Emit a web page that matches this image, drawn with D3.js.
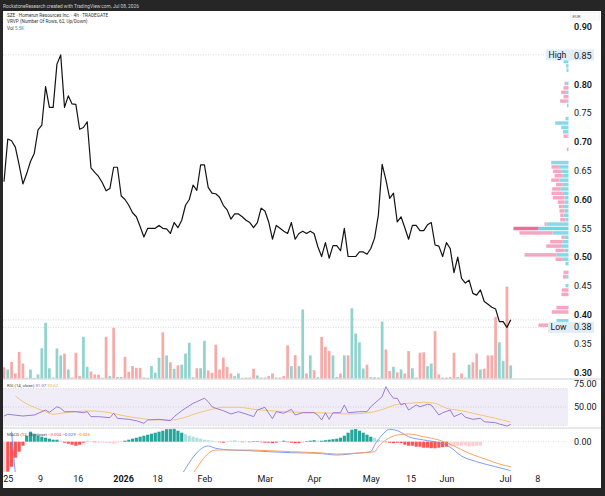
<!DOCTYPE html>
<html><head><meta charset="utf-8">
<script src="https://cdn.jsdelivr.net/npm/d3@7"></script>
<style>body{margin:0;background:#262626;}svg{display:block;}</style>
</head><body><svg id="c" width="605" height="496"></svg>
<script>
// ---------- DATA ----------
const price = [0.631,0.705,0.702,0.691,0.660,0.627,0.645,0.666,0.680,0.721,0.729,0.796,0.760,0.760,0.835,0.851,0.760,0.780,0.766,0.765,
0.722,0.725,0.735,0.655,0.647,0.640,0.629,0.615,0.619,0.656,0.656,0.606,0.600,0.590,0.577,0.570,0.553,0.535,0.550,0.550,
0.550,0.555,0.550,0.549,0.541,0.560,0.551,0.564,0.590,0.600,0.625,0.616,0.660,0.660,0.621,0.611,0.610,0.604,0.590,0.582,
0.566,0.575,0.575,0.570,0.564,0.560,0.551,0.560,0.585,0.580,0.561,0.531,0.555,0.550,0.545,0.541,0.560,0.531,0.541,0.545,
0.541,0.545,0.541,0.518,0.501,0.525,0.498,0.520,0.520,0.511,0.550,0.501,0.501,0.501,0.509,0.509,0.505,0.515,0.533,0.573,
0.661,0.634,0.602,0.611,0.561,0.570,0.551,0.531,0.555,0.555,0.546,0.546,0.556,0.560,0.521,0.519,0.501,0.525,0.515,0.473,
0.500,0.463,0.455,0.460,0.437,0.434,0.443,0.423,0.418,0.413,0.410,0.388,0.388,0.378,0.391];

const volume = [4.7,3.8,7.0,2.1,11.2,6.3,0.3,3.8,0.3,1.7,12.7,23.4,4.3,0.4,12.6,9.7,10.4,3.8,0.4,10.8,
1.0,17.5,4.9,2.9,1.7,1.6,0.3,17.5,1.0,21.3,0.6,0.6,9.1,2.8,5.2,4.5,4.5,0.4,0.3,5.2,
2.4,8.7,19.4,9.7,6.8,4.1,5.5,5.8,10.5,15.0,0.5,4.3,4.3,15.8,3.4,2.4,14.2,3.8,8.8,4.9,
2.1,1.0,2.1,0.3,0.4,0.4,4.1,1.3,0.4,0.4,1.0,2.1,0.4,0.4,1.0,13.9,5.2,9.8,5.2,29.0,
2.1,9.7,3.5,0.5,17.5,13.3,11.5,9.7,0.6,2.1,9.7,9.7,29.5,18.9,15.2,4.2,5.8,0.6,0.5,0.4,
23.9,12.2,3.1,4.9,2.6,3.8,2.1,11.5,4.3,0.4,10.8,11.0,5.2,6.3,19.9,1.7,0.4,0.4,0.6,10.8,
0.6,2.1,0.4,5.8,6.8,10.5,3.8,4.1,9.7,9.7,25.9,15.2,7.3,38.6,5.5];

// 1 = up bar (teal), 0 = down bar (red)
const volDir = [0,1,0,0,0,0,1,1,1,1,1,1,1,1,1,1,0,1,0,0,
0,1,1,0,0,0,0,0,1,0,1,0,0,0,0,0,0,0,1,1,
1,1,0,1,0,1,0,1,1,1,1,0,1,1,0,0,0,0,0,0,
0,1,1,0,0,1,0,1,0,1,0,0,1,0,0,0,1,0,1,1,
0,1,0,1,0,0,0,1,1,0,1,0,1,1,1,1,0,1,1,0,
1,0,0,1,0,1,0,0,1,1,0,0,1,1,0,0,1,0,0,0,
1,0,1,1,0,0,1,0,0,0,0,1,1,0,1];

// Volume profile (62 rows from low to high), up / down volume
const vpUp   = [2,12,0,0,0,0,0,0,0,3,0,2.3,0,0,3,5.7,12,4,7.3,5.7,
4,16,30,22,3,5,4,5.7,4,4,5.7,8.3,5.7,9,5.7,7.3,9.7,17.3,0,0,
0,0,0,0.7,5.7,7.3,13.3,3,0,0,1.5,1.7,0,2.3,0,2.3,0,0,2,2.3,5,0];
const vpDown = [28,0,0,16.7,12,0,0,7,6.7,0,0,3.3,5,0,0,7.3,32,9,15,12.7,
3,33,25,2,5.3,3.3,5,4,6.7,11.7,11.3,8,6.7,8.3,8.3,8.3,7.3,0,0,0,
1.7,0,0,4.3,0,0,0,0,0,0,0,6.7,5,5,5,1.7,0,0,0,0,0,0];
const priceLow = 0.378, priceHigh = 0.851, lastPrice = 0.391;

const rsiIdx = [0,1,5,8,11,12,14,15,16,19,21,22,23,25,28,29,30,33,35,37,38,41,44,45,47,50,51,53,54,55,56,58,60,62,64,66,67,69,70,71,72,74,76,77,79,82,83,84,85,86,87,89,90,91,94,96,97,100,101,102,103,104,105,106,107,109,110,112,113,115,116,118,119,121,122,124,126,127,130,131,133,134];
const rsiVal = [40.2,42.1,40.2,41.3,46.7,44.2,50.3,48.6,44.9,44.9,43.8,44.9,39.5,39.5,38.4,43.2,37.7,36.6,35.1,32.3,35.9,36.6,35.1,39.5,46.0,54.0,55.8,59.5,55.8,50.3,48.6,46.0,42.4,44.9,42.4,39.5,46.7,49.7,43.2,37.3,44.9,43.2,47.5,41.3,43.8,43.8,41.3,35.9,43.8,36.6,43.8,43.8,52.2,43.8,44.9,44.9,50.3,61.2,72.1,64.9,59.5,59.5,52.2,54.0,46.7,52.2,50.3,52.9,52.2,41.3,43.8,46.7,39.5,43.2,38.8,36.6,37.7,34.0,32.9,31.5,29.3,31.07];
const rsiMaIdx = [3,5,8,11,13,15,19,23,28,32,36,40,44,47,51,55,58,62,66,70,74,79,83,87,91,95,98,101,104,107,111,114,117,121,126,130,134];
const rsiMaVal = [62.0,55.8,49.7,44.9,42.1,43.2,44.9,45.7,43.8,40.2,37.7,35.9,35.9,37.7,43.2,47.5,49.7,49.7,47.5,46.0,44.9,44.2,43.8,43.2,42.4,43.2,44.9,48.6,52.9,54.0,55.1,54.0,48.6,46.0,41.3,37.7,33.62];

const macdIdx = [2,3,4,47,54,56,60,65,70,76,83,88,93,97,98,100,102,104,107,111,115,118,121,125,130,134];
const macdVal = [0.010,-0.032,null,-0.033,-0.0043,-0.0066,-0.0083,-0.009,-0.010,-0.011,-0.0116,-0.0133,-0.0116,-0.010,-0.0033,0.0067,0.0124,0.011,0.005,0.0017,-0.001,-0.0056,-0.0143,-0.020,-0.025,-0.029];
const signalIdx = [50,56,60,65,70,76,83,88,95,98,99,101,104,107,111,115,119,123,128,131,134];
const signalVal = [-0.032,-0.0083,-0.0083,-0.0083,-0.009,-0.010,-0.011,-0.0123,-0.011,-0.010,-0.005,0.0017,0.0067,0.0077,0.005,0.0017,-0.0043,-0.0116,-0.0183,-0.0223,-0.025];
const hist = [null,null,null,null,null,null,null,null,
-0.035,-0.030,-0.025,-0.016,-0.010,-0.004,
0.006,0.010,0.008,0.006,0.005,0.004,0.003,0.002,0.002,0.001,
-0.001,-0.002,-0.003,-0.004,-0.003,-0.001,
0.001,0.0005,-0.0005,-0.001,-0.001,-0.001,-0.0015,-0.002,-0.001,
0.0005,0.001,0.002,0.003,0.004,0.005,0.006,0.007,0.008,0.009,0.010,0.011,0.0125,0.0126,0.0128,
0.011,0.009,0.0075,0.006,0.005,0.004,0.003,0.002,0.0015,0.001,0.0005,
-0.0005,-0.001,0.0005,0.001,0.0015,0.0005,-0.0005,0.0005,-0.0005,0.0005,0.0005,-0.0005,-0.001,-0.001,-0.0015,-0.001,0.0005,0.001,-0.0005,-0.001,-0.0015,-0.0015,-0.001,0.0005,0.001,0.0015,0.001,0.001,0.0015,0.002,0.0025,0.003,0.004,0.006,0.009,0.012,0.0127,
0.011,0.009,0.007,0.005,0.004,0.002,0.001,
-0.0005,-0.001,-0.0015,-0.001,-0.0015,-0.003,-0.004,-0.004,-0.005,-0.005,-0.006,-0.006,-0.0065,-0.0066,-0.006,-0.0055,-0.005,-0.005,-0.0045,-0.004,-0.004,-0.0038,-0.005,-0.0045,-0.004,-0.004];

const priceTicks = [0.30,0.35,0.40,0.45,0.50,0.55,0.60,0.65,0.70,0.75,0.80,0.85,0.90];
const timeTickIdx = [1,9.5,19.5,31.5,40.5,53,69,82,97,107.5,117,132.5,141];
const timeTickLabels = ["25","9","16","2026","18","Feb","Mar","Apr","May","15","Jun","Jul","8"];
const rsiTicks = [50,75];
const macdTicks = [0];

// ---------- DRAWING ----------
const W = 605, H = 496;
const FONT = "Roboto, 'Liberation Sans', sans-serif";
const svg = d3.select("#c");
svg.append("rect").attr("width", W).attr("height", H).attr("fill", "#262626");
svg.append("rect").attr("x", 3).attr("y", 11).attr("width", 598).attr("height", 477).attr("fill", "#ffffff");

svg.append("text").attr("x", 3).attr("y", 7.6).attr("font-family", FONT).attr("font-size", 4.8)
  .attr("fill", "#cfcfcf").text("RockstoneResearch created with TradingView.com, Jul 08, 2026");

const x = d3.scaleLinear().domain([0, 134]).range([4, 510.7]);
const step = x(1) - x(0);
const yP = d3.scaleLinear().domain([0.30, 0.90]).range([372.3, 26.7]);
const yV = d3.scaleLinear().domain([0, 42]).range([378.5, 278.5]);
const yR = d3.scaleLinear().domain([30, 70]).range([425.4, 388.6]);
const yM = d3.scaleLinear().domain([0, 0.01]).range([441.7, 431.7]);

const defs = svg.append("defs");
function clip(id, x0, y0, w, h) {
  defs.append("clipPath").attr("id", id).append("rect").attr("x", x0).attr("y", y0).attr("width", w).attr("height", h);
}
clip("cp", 3, 11, 598, 368);
clip("cr", 3, 379, 565, 49);
clip("cm", 3, 428, 565, 44);

// separators
[379, 428].forEach(yy => svg.append("line").attr("x1", 3).attr("x2", 601).attr("y1", yy).attr("y2", yy)
  .attr("stroke", "#cdd0d6").attr("stroke-width", 1));

// ---------- price pane ----------
const gp = svg.append("g").attr("clip-path", "url(#cp)");
[priceHigh, priceLow, lastPrice].forEach(v => gp.append("line").attr("x1", 3).attr("x2", 546)
  .attr("y1", yP(v)).attr("y2", yP(v)).attr("stroke", "#c8c8c8").attr("stroke-width", 0.7).attr("stroke-dasharray", "1,1.5"));

gp.selectAll(".vol").data(volume).join("rect")
  .attr("x", (d, i) => x(i) - step * 0.36).attr("width", step * 0.72)
  .attr("y", d => yV(d)).attr("height", d => yV(0) - yV(d))
  .attr("fill", (d, i) => volDir[i] ? "#93d3cd" : "#f7aaa8");

const vpRight = 568.5;
const xVP = d3.scaleLinear().domain([0, 55]).range([0, 55]);
const rowH = (priceHigh - priceLow) / vpUp.length;
const poc = d3.maxIndex(vpUp.map((u, i) => u + vpDown[i]));
const gvp = gp.append("g");
vpUp.forEach((u, i) => {
  const yTop = yP(priceLow + (i + 1) * rowH), yBot = yP(priceLow + i * rowH);
  const ry = yTop + 0.45, rh = Math.max(0.5, yBot - yTop - 0.9);
  const d = vpDown[i];
  if (u > 0) gvp.append("rect").attr("x", vpRight - xVP(u)).attr("width", xVP(u)).attr("y", ry).attr("height", rh)
    .attr("fill", i === poc ? "#6fd3e3" : "#86d9e6");
  if (d > 0) gvp.append("rect").attr("x", vpRight - xVP(u) - xVP(d)).attr("width", xVP(d)).attr("y", ry).attr("height", rh)
    .attr("fill", i === poc ? "#ee6d96" : "#f6a6c0");
});

gp.append("path").datum(price)
  .attr("d", d3.line().x((d, i) => x(i)).y(d => yP(d)))
  .attr("fill", "none").attr("stroke", "#131313").attr("stroke-width", 1.2).attr("stroke-linejoin", "round");

function tag(v, label, x0) {
  const yy = yP(v);
  svg.append("rect").attr("x", x0).attr("y", yy - 5.5).attr("width", 594 - x0).attr("height", 11).attr("fill", "#e2edfa");
  svg.append("text").attr("x", x0 + 2.5).attr("y", yy + 3).attr("font-family", FONT).attr("font-size", 8.6)
    .attr("fill", "#131722").text(label);
}
tag(priceHigh, "High", 546);
tag(priceLow, "Low", 548);
svg.append("text").attr("x", 574).attr("y", yP(priceLow) + 3).attr("font-family", FONT).attr("font-size", 9)
  .attr("fill", "#131722").text(d3.format(".2f")(priceLow));

const ax = svg.append("g").attr("transform", "translate(574,0)")
  .call(d3.axisRight(yP).tickValues(priceTicks).tickSize(0).tickPadding(0).tickFormat(d3.format(".2f")));
ax.select(".domain").remove();
ax.selectAll("text").attr("font-family", FONT).attr("font-size", 9).attr("fill", "#131722")
  .attr("text-anchor", "start")
  .attr("font-weight", d => Math.round(d * 100) % 10 === 0 ? 600 : 400);

svg.append("rect").attr("x", 570.5).attr("y", 12).attr("width", 29).attr("height", 8).attr("fill", "#fafafa").attr("stroke", "#ececec").attr("stroke-width", 0.5);
svg.append("text").attr("x", 572.5).attr("y", 17.5).attr("font-family", FONT).attr("font-size", 4.3).attr("fill", "#555").text("EUR");

const lg = svg.append("g").attr("font-family", FONT).attr("font-size", 4.7).attr("fill", "#333");
lg.append("text").attr("x", 7).attr("y", 16.9).text("SZE · Homerun Resources Inc. · 4h · TRADEGATE");
lg.append("text").attr("x", 7).attr("y", 22.9).text("VRVP (Number Of Rows, 62, Up/Down)");
const vt = lg.append("text").attr("x", 7).attr("y", 29.6);
vt.append("tspan").text("Vol ");
vt.append("tspan").attr("fill", "#26a69a").text(volume[volume.length - 1].toFixed(1) + "K");

// ---------- RSI pane ----------
const gr = svg.append("g").attr("clip-path", "url(#cr)");
gr.append("rect").attr("x", 3).attr("width", 565).attr("y", yR(70)).attr("height", yR(30) - yR(70)).attr("fill", "rgba(126,87,194,0.11)");
[70, 50, 30].forEach(v => gr.append("line").attr("x1", 3).attr("x2", 568).attr("y1", yR(v)).attr("y2", yR(v))
  .attr("stroke", "#9598a1").attr("stroke-opacity", 0.6).attr("stroke-width", 0.6).attr("stroke-dasharray", "1,1.5"));
const rsiPts = rsiIdx.map((d, i) => [d, rsiVal[i]]);
const maPts = rsiMaIdx.map((d, i) => [d, rsiMaVal[i]]);
gr.append("path").datum(maPts).attr("d", d3.line().curve(d3.curveMonotoneX).x(d => x(d[0])).y(d => yR(d[1])))
  .attr("fill", "none").attr("stroke", "#f3c677").attr("stroke-width", 1);
gr.append("path").datum(rsiPts).attr("d", d3.line().x(d => x(d[0])).y(d => yR(d[1])))
  .attr("fill", "none").attr("stroke", "#8e6fd0").attr("stroke-width", 0.9);
const ra = svg.append("g").attr("transform", "translate(574,0)")
  .call(d3.axisRight(yR).tickValues(rsiTicks).tickSize(0).tickPadding(0).tickFormat(d3.format(".2f")));
ra.select(".domain").remove();
ra.selectAll("text").attr("font-family", FONT).attr("font-size", 9).attr("fill", "#131722").attr("text-anchor", "start");
const rl = svg.append("text").attr("x", 7).attr("y", 386.5).attr("font-family", FONT).attr("font-size", 4.3).attr("fill", "#444");
rl.append("tspan").text("RSI (14, close) ");
rl.append("tspan").attr("fill", "#7e57c2").text(rsiVal[rsiVal.length - 1].toFixed(2) + " ");
rl.append("tspan").attr("fill", "#e0a93a").text(rsiMaVal[rsiMaVal.length - 1].toFixed(2));

// ---------- MACD pane ----------
const gm = svg.append("g").attr("clip-path", "url(#cm)");
gm.append("line").attr("x1", 3).attr("x2", 568).attr("y1", yM(0)).attr("y2", yM(0))
  .attr("stroke", "#9598a1").attr("stroke-opacity", 0.6).attr("stroke-width", 0.6).attr("stroke-dasharray", "1,1.5");
gm.selectAll(".h").data(hist).join("rect")
  .filter(d => d !== null)
  .attr("x", (d, i) => x(i) - step * 0.42).attr("width", step * 0.84)
  .attr("y", d => Math.min(yM(d), yM(0))).attr("height", d => Math.abs(yM(d) - yM(0)))
  .attr("fill", (d, i) => {
    const p = hist[i - 1];
    if (d >= 0) return (p === null || d > p) ? "#26a69a" : "#b2dfdb";
    return (p === null || d < p) ? "#ff5252" : "#ffcdd2";
  });
const macdPts = macdIdx.map((d, i) => [d, macdVal[i]]);
const sigPts = signalIdx.map((d, i) => [d, signalVal[i]]);
gm.append("path").datum(macdPts).attr("d", d3.line().defined(d => d[1] !== null).curve(d3.curveMonotoneX).x(d => x(d[0])).y(d => yM(d[1])))
  .attr("fill", "none").attr("stroke", "#6f92f7").attr("stroke-width", 0.9);
gm.append("path").datum(sigPts).attr("d", d3.line().curve(d3.curveMonotoneX).x(d => x(d[0])).y(d => yM(d[1])))
  .attr("fill", "none").attr("stroke", "#fb9a55").attr("stroke-width", 0.9);
const ma = svg.append("g").attr("transform", "translate(574,0)")
  .call(d3.axisRight(yM).tickValues(macdTicks).tickSize(0).tickPadding(0).tickFormat(d3.format(".2f")));
ma.select(".domain").remove();
ma.selectAll("text").attr("font-family", FONT).attr("font-size", 9).attr("fill", "#131722").attr("text-anchor", "start");
const ml = svg.append("text").attr("x", 7).attr("y", 435.8).attr("font-family", FONT).attr("font-size", 4.3).attr("fill", "#444");
const f3 = v => (v < 0 ? "\u2212" : "") + Math.abs(v).toFixed(3);
ml.append("tspan").text("MACD (12, 26, close) ");
ml.append("tspan").attr("fill", "#ff5252").text(f3(hist[hist.length - 1]) + " ");
ml.append("tspan").attr("fill", "#2962ff").text(f3(macdVal[macdVal.length - 1]) + " ");
ml.append("tspan").attr("fill", "#ff6d00").text(f3(signalVal[signalVal.length - 1]));

// ---------- time axis ----------
const ta = svg.append("g").attr("transform", "translate(0,476)")
  .call(d3.axisBottom(x).tickValues(timeTickIdx).tickSize(0).tickPadding(0).tickFormat((d, i) => timeTickLabels[i]));
ta.select(".domain").remove();
ta.selectAll("text").attr("font-family", FONT).attr("font-size", 9).attr("fill", "#131722")
  .attr("font-weight", (d, i) => timeTickLabels[i] === "2026" ? 700 : 400);
</script>
</body></html>
